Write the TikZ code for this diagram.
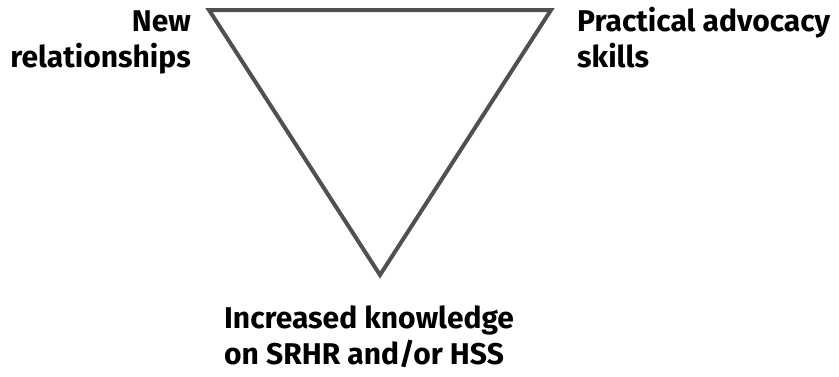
\documentclass[tikz,border=0pt]{standalone}
\usepackage{fontspec}
\setmainfont{Fira Sans}
\definecolor{edgegray}{HTML}{505050}
\tikzset{
  outcome/.style={font=\fontsize{30}{36}\selectfont\bfseries, inner sep=0pt, text=black},
}
\begin{document}
\begin{tikzpicture}[x=1pt,y=-1pt]
		\useasboundingbox (0,0) rectangle (839,376);
		
		\coordinate (tl) at (209,10);
		\coordinate (tr) at (551,10);
		\coordinate (bt) at (380,275);
		\draw [edgegray, line width=4pt, line join=miter] (tl) -- (tr) -- (bt) -- cycle;
		
		\node [outcome, align=right, anchor=base east] (rel) at (191,67) {New\\relationships};
		\node [outcome, align=left, anchor=base west] (adv) at (577,67) {Practical advocacy\\skills};
		\node [outcome, align=left, anchor=base west] (know) at (224,364) {Increased knowledge\\on SRHR and/or HSS};
\end{tikzpicture}
\end{document}
